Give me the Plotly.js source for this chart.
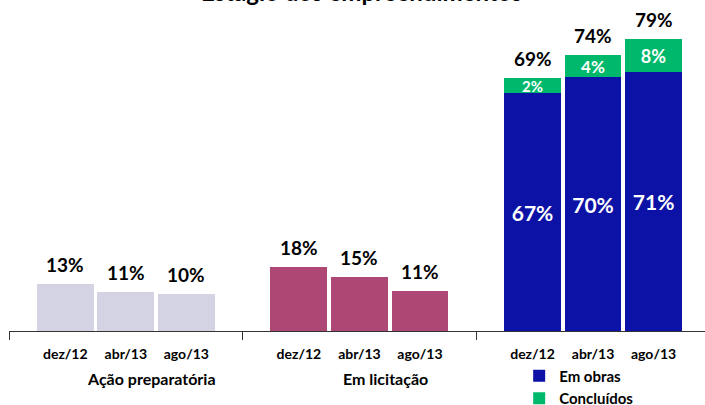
<!DOCTYPE html>
<html>
<head>
<meta charset="utf-8">
<script src="https://cdn.plot.ly/plotly-3.0.1.min.js"></script>
<style>html,body{margin:0;padding:0;background:#fff;}#chart{width:705px;height:405px;}</style>
</head>
<body>
<div id="chart"></div>
<script>
// ---- data ----
var periods = ["dez/12", "abr/13", "ago/13"];
var groupNames = ["Ação preparatória", "Em licitação", ""];
var acaoValues = [12.6, 10.6, 9.9];
var acaoLabels = ["13%", "11%", "10%"];
var licitValues = [17.3, 14.6, 10.7];
var licitLabels = ["18%", "15%", "11%"];
var obrasValues = [64.3, 68.6, 70.0];
var obrasLabels = ["67%", "70%", "71%"];
var conclValues = [4.1, 5.9, 8.9];
var conclLabels = ["2%", "4%", "8%"];
var totalLabels = ["69%", "74%", "79%"];

// ---- layout helpers ----
var FONT = "Lato, 'Open Sans', sans-serif";
var groupWidth = 3.86, firstOffset = 0.93;
function xs(g) { return periods.map(function (p, i) { return g * groupWidth + firstOffset + i; }); }
var x1 = xs(0), x2 = xs(1), x3 = xs(2);
var allX = x1.concat(x2, x3);
var allTickText = periods.concat(periods, periods);
var bounds = [0, groupWidth, 2 * groupWidth];
var xRange = [0, 11.5];

var barW = 0.94;
var traces = [
  { type: "bar", x: x1, y: acaoValues, width: barW, marker: { color: "#d3d3e3" }, showlegend: false, hoverinfo: "skip" },
  { type: "bar", x: x2, y: licitValues, width: barW, marker: { color: "#ad4874" }, showlegend: false, hoverinfo: "skip" },
  { type: "bar", x: x3, y: obrasValues, width: barW, name: "Em obras", marker: { color: "#0c12a5" },
    text: obrasLabels, textposition: "inside", insidetextanchor: "middle", constraintext: "none",
    textfont: { color: "#ffffff", size: 21, family: FONT, weight: "bold" }, hoverinfo: "skip" },
  { type: "bar", x: x3, y: conclValues, width: barW, name: "Concluídos", marker: { color: "#00b86b" },
    text: conclLabels, textposition: "inside", insidetextanchor: "middle", constraintext: "none",
    textfont: { color: "#ffffff", size: [15, 17, 18], family: FONT, weight: "bold" }, hoverinfo: "skip" }
];

var annotations = [];
function addTop(xv, yv, labels) {
  for (var i = 0; i < xv.length; i++) {
    annotations.push({ x: xv[i], y: yv[i], xref: "x", yref: "y", text: labels[i], showarrow: false,
      yanchor: "bottom", yshift: 6, font: { family: FONT, size: 19, color: "#000", weight: "bold" } });
  }
}
addTop(x1, acaoValues, acaoLabels);
addTop(x2, licitValues, licitLabels);
addTop(x3, obrasValues.map(function (v, i) { return v + conclValues[i]; }), totalLabels);

groupNames.forEach(function (n, g) {
  if (!n) return;
  annotations.push({ x: g * groupWidth + groupWidth / 2 + 0.43, y: -0.142, xref: "x", yref: "paper", text: n,
    showarrow: false, yanchor: "middle", font: { family: FONT, size: 16, color: "#000", weight: "bold" } });
});

annotations.push({ x: 0.506, y: 0.975, xref: "paper", yref: "paper", text: "Estágio dos empreendimentos",
  showarrow: false, yanchor: "bottom", font: { family: FONT, size: 24, color: "#000", weight: "bold" } });

var layout = {
  width: 705, height: 405,
  margin: { l: 9, r: 0, t: 0, b: 74, autoexpand: false },
  paper_bgcolor: "#fff", plot_bgcolor: "#fff",
  barmode: "stack",
  showlegend: true,
  legend: { x: 0.733, y: -0.086, xanchor: "left", yanchor: "top", traceorder: "normal", tracegroupgap: 0,
    font: { family: FONT, size: 15, color: "#000", weight: "bold" }, bgcolor: "rgba(0,0,0,0)" },
  xaxis: { range: xRange, tickvals: allX, ticktext: allTickText, showgrid: false, zeroline: false,
    showline: true, linecolor: "#333", linewidth: 1, ticks: "outside", ticklen: 10, tickcolor: "rgba(0,0,0,0)",
    tickfont: { family: FONT, size: 14, color: "#000", weight: "bold" }, fixedrange: true, automargin: false },
  xaxis2: { overlaying: "x", anchor: "y", side: "bottom", range: xRange, tickvals: bounds, showticklabels: false,
    ticks: "outside", ticklen: 8, tickcolor: "#333", tickwidth: 1, showgrid: false, zeroline: false, showline: false },
  yaxis: { range: [0, 89.5], visible: false, showgrid: false, zeroline: false, fixedrange: true },
  annotations: annotations
};
// dummy invisible trace to activate xaxis2
traces.push({ type: "scatter", x: bounds, y: [0, 0, 0], xaxis: "x2", mode: "markers", marker: { opacity: 0 }, showlegend: false, hoverinfo: "skip" });

Plotly.newPlot("chart", traces, layout, { displayModeBar: false, staticPlot: true });
</script>
</body>
</html>
